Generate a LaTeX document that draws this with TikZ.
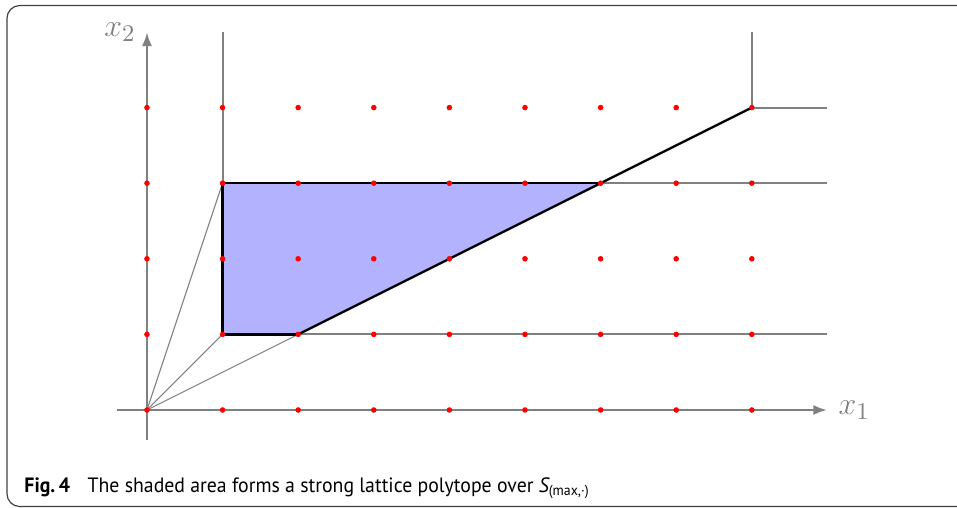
\documentclass[tikz,border=0pt]{standalone}
\usepackage{fontspec}
\newfontfamily\capfont[FakeStretch=0.955]{PT Sans}
\usetikzlibrary{arrows.meta}
\begin{document}
\begin{tikzpicture}[x=1cm,y=1cm,
  axis/.style={draw=gray, line width=1.05pt, -{Latex[length=5.3pt,width=3.8pt]}},
  guide/.style={draw=gray, line width=0.75pt},
  ray/.style={draw=gray, line width=0.4pt},
  edgeline/.style={draw=black, line width=0.9pt, line join=round},
  dot/.style={circle, fill=red, inner sep=0pt, minimum size=2.1pt},
  lab/.style={text=gray, font=\fontsize{13}{15}\selectfont, inner sep=4pt},
  frame/.style={draw=black!75, line width=0.45pt, rounded corners=0.17cm},
  captext/.style={font=\capfont\fontsize{7.8}{9}\selectfont, inner sep=0pt, anchor=base west}]
\useasboundingbox (-1.944,-1.296) rectangle (10.714,5.423);
\draw[frame] (-1.852,-1.277) rectangle (11.5,5.35);
% key points
\coordinate (O) at (0,0);
\coordinate (A) at (1,3);
\coordinate (B) at (6,3);
\coordinate (C) at (2,1);
\coordinate (D) at (1,1);
\coordinate (E) at (8,4);
\coordinate (Atop) at (1,5);
\coordinate (Etop) at (8,5);
\coordinate (Eright) at (9,4);
\coordinate (Bright) at (9,3);
\coordinate (Cright) at (9,1);
\coordinate (xs) at (-0.4,0);
\coordinate (xe) at (9,0);
\coordinate (ys) at (0,-0.4);
\coordinate (ye) at (0,5);
% polytope fill
\fill[blue!30] (A) -- (B) -- (C) -- (D) -- cycle;
% guide lines
\draw[guide] (Atop) -- (A);
\draw[guide] (B) -- (Bright);
\draw[guide] (C) -- (Cright);
\draw[guide] (Etop) -- (E) -- (Eright);
% rays from origin
\draw[ray] (O) -- (A);
\draw[ray] (O) -- (D);
\draw[ray] (O) -- (C);
% axes
\draw[axis] (xs) -- (xe);
\draw[axis] (ys) -- (ye);
\node[lab, anchor=west] (lx1) at (xe) {$x_1$};
\node[lab, anchor=east] (lx2) at (ye) {$x_2$};
% polytope boundary
\draw[edgeline] (C) -- (D) -- (A) -- (B);
\draw[edgeline] (C) -- (E);
% lattice points
\foreach \i in {0,...,8}{
  \foreach \j in {0,...,4}{
    \node[dot] (p-\i-\j) at (\i,\j) {};
  }
}
% caption
\node[captext] (caption) at (-1.627,-1.085) {{\bfseries Fig.\,4}\hspace{0.85em}The shaded area forms a strong lattice polytope over {\itshape S}\textsubscript{(max,·)}};
\end{tikzpicture}
\end{document}
